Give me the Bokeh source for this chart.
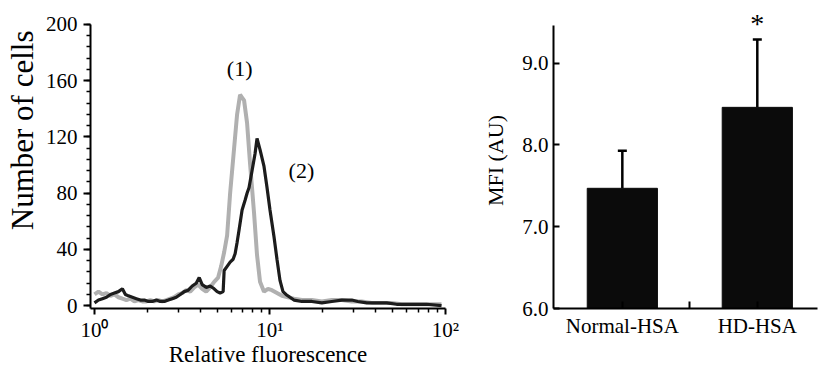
import math
from bokeh.plotting import figure
from bokeh.layouts import row
from bokeh.models import (FixedTicker, Range1d, Whisker, ColumnDataSource,
                          TeeHead, PrintfTickFormatter, Title)
from bokeh.embed import file_html
from bokeh.resources import INLINE
from bokeh.core.properties import value

FONT = "Liberation Serif"

# ---------------- data: flow-cytometry histograms ----------------
# (1) grey curve
hist1_fluor = [1.00, 1.054, 1.110, 1.170, 1.233, 1.299, 1.369, 1.442, 1.520, 1.602,
               1.688, 1.778, 1.874, 1.974, 2.080, 2.192, 2.310, 2.434, 2.565, 2.703,
               2.848, 3.001, 3.162, 3.332, 3.511, 3.700, 3.899, 4.108, 4.329, 4.561,
               4.806, 5.064, 5.267, 5.480, 5.699, 5.927, 6.245, 6.494, 6.753, 6.934,
               7.117, 7.402, 7.698, 8.111, 8.436, 8.774, 9.245, 9.741, 10.26, 10.96,
               11.70, 12.66, 13.69, 15.20, 17.32, 19.74, 22.50, 25.65, 29.24, 33.32,
               37.98, 43.29, 49.34, 56.23, 64.10, 73.06, 83.27, 94.9]
hist1_cells = [8, 10, 8, 9, 7, 8, 6, 5, 4, 5,
               3, 4, 3, 3, 4, 3, 4, 3, 4, 5,
               6, 8, 9, 11, 10, 13, 15, 12, 10, 13,
               17, 20, 28, 38, 50, 80, 112, 136, 150, 148,
               146, 130, 101, 66, 36, 17, 10, 12, 11, 9,
               7, 6, 5, 4, 4, 3, 4, 4, 3, 3,
               2, 2, 2, 1, 1, 1, 1, 1]
# (2) black curve
hist2_fluor = [1.00, 1.054, 1.110, 1.170, 1.233, 1.299, 1.369, 1.442, 1.500, 1.560,
               1.644, 1.732, 1.825, 1.923, 2.027, 2.136, 2.250, 2.371, 2.498, 2.633,
               2.774, 2.924, 3.081, 3.246, 3.420, 3.605, 3.798, 3.951, 4.108, 4.329,
               4.561, 4.806, 4.998, 5.198, 5.408, 5.480, 5.699, 5.927, 6.164, 6.327,
               6.494, 6.667, 6.934, 7.211, 7.402, 7.598, 7.902, 8.218, 8.436, 8.774,
               9.245, 9.616, 10.00, 10.54, 10.96, 11.40, 11.86, 12.33, 12.99, 13.69,
               15.20, 17.32, 19.74, 22.50, 25.65, 29.24, 31.62, 35.57, 40.55, 46.22,
               52.68, 64.10, 77.99, 94.9]
hist2_cells = [2, 4, 5, 6, 8, 9, 10, 12, 8, 7,
               6, 5, 4, 4, 3, 3, 4, 3, 3, 4,
               5, 6, 8, 10, 11, 14, 16, 20, 15, 13,
               14, 12, 10, 9, 10, 25, 28, 31, 33, 37,
               45, 54, 68, 75, 80, 84, 96, 108, 119, 111,
               99, 84, 68, 49, 33, 18, 10, 8, 6, 4,
               3, 3, 2, 3, 4, 4, 3, 2, 2, 2,
               1, 1, 1, 0]

curve_labels = ["(1)", "(2)"]
curve_label_fluor = [6.72, 15.1]
curve_label_cells = [169, 96]

left_y_ticks = [0, 40, 80, 120, 160, 200]
left_axis_top = 200
left_x_ticks = [1, 10, 100]
left_x_tick_labels = ["10\u2070", "10\u00b9", "10\u00b2"]

# ---------------- data: MFI bars ----------------
groups = ["Normal-HSA", "HD-HSA"]
mfi = [7.47, 8.46]
mfi_err = [0.46, 0.83]
significance = ["", "*"]
right_y_ticks = [6, 7, 8, 9]
right_axis_top = 9.46


def style_axis(ax, size):
    ax.axis_line_width = 2
    ax.axis_line_color = "black"
    ax.major_tick_line_color = "black"
    ax.major_tick_line_width = 2
    ax.minor_tick_line_color = "black"
    ax.minor_tick_line_width = 1.5
    ax.major_label_text_font = FONT
    ax.major_label_text_font_size = size
    ax.major_label_text_color = "black"
    ax.axis_label_text_font = FONT
    ax.axis_label_text_font_style = "normal"
    ax.axis_label_text_color = "black"


# ================= left panel =================
p1 = figure(width=478, height=370, x_axis_type="log",
            x_range=Range1d(0.949, 100), y_range=Range1d(-2, 208.5),
            output_backend="svg", toolbar_location=None,
            min_border_left=88, min_border_right=33,
            min_border_top=12, min_border_bottom=62)
p1.grid.visible = False
p1.outline_line_color = None
p1.background_fill_color = "white"
p1.border_fill_color = "white"

xa = p1.xaxis[0]
style_axis(xa, "21px")
xa.ticker = FixedTicker(ticks=left_x_ticks,
                        minor_ticks=[m * 10 ** d for d in (0, 1) for m in range(2, 10)])
xa.major_label_overrides = dict(zip(left_x_ticks, left_x_tick_labels))
xa.major_tick_out = 6
xa.major_tick_in = 0
xa.minor_tick_out = 4
xa.minor_tick_in = 0
xa.major_label_standoff = 3
xa.axis_label = "Relative fluorescence"
xa.axis_label_text_font_size = "23px"
xa.axis_label_standoff = -3

ya = p1.yaxis[0]
style_axis(ya, "21px")
ya.ticker = FixedTicker(ticks=left_y_ticks, minor_ticks=list(range(0, 201, 8)))
ya.bounds = (-2, left_axis_top)
ya.major_tick_out = 7
ya.major_tick_in = 0
ya.minor_tick_out = 4
ya.minor_tick_in = 0
ya.major_label_standoff = 6

p1.add_layout(Title(text="Number of cells", align="right", offset=18, standoff=5,
                    text_font=FONT, text_font_size="31px", text_font_style="normal",
                    text_color="black"), "left")

p1.line(hist1_fluor, hist1_cells, line_color="#b0b0b0", line_width=4)
p1.line(hist2_fluor, hist2_cells, line_color="#1c1c1c", line_width=3.2)
p1.text(x=curve_label_fluor, y=curve_label_cells, text=curve_labels,
        text_font=value(FONT), text_font_size="22px", text_color="black",
        text_align="center", text_baseline="middle")

# ================= right panel =================
xs = [i + 1 for i in range(len(groups))]
upper = [m + e for m, e in zip(mfi, mfi_err)]

p2 = figure(width=340, height=370,
            x_range=Range1d(0.49, 2.446), y_range=Range1d(6, 9.62),
            output_backend="svg", toolbar_location=None,
            min_border_left=75, min_border_right=1,
            min_border_top=12, min_border_bottom=62)
p2.grid.visible = False
p2.outline_line_color = None
p2.background_fill_color = "white"
p2.border_fill_color = "white"

p2.vbar(x=xs, top=mfi, bottom=6, width=0.52,
        fill_color="#0b0b0b", line_color="#0b0b0b")

src = ColumnDataSource(dict(x=xs, lower=mfi, upper=upper,
                            star_y=[u + 0.20 for u in upper], star=significance))
p2.add_layout(Whisker(base="x", lower="lower", upper="upper", source=src,
                      line_color="black", line_width=2.5,
                      upper_head=TeeHead(size=9, line_width=2.5, line_color="black"),
                      lower_head=None))

p2.text(x="x", y="star_y", text="star", source=src,
        text_font=value(FONT), text_font_size="28px", text_color="black",
        text_align="center", text_baseline="middle")

xb = p2.xaxis[0]
style_axis(xb, "21px")
overrides = {x: g for x, g in zip(xs, groups)}
overrides[1.5] = ""
xb.ticker = FixedTicker(ticks=[1, 1.5, 2])
xb.major_label_overrides = overrides
xb.major_tick_in = 7
xb.major_tick_out = 0
xb.minor_tick_in = 0
xb.minor_tick_out = 0
xb.major_label_standoff = 5

yb = p2.yaxis[0]
style_axis(yb, "21px")
yb.ticker = FixedTicker(ticks=right_y_ticks)
yb.formatter = PrintfTickFormatter(format="%.1f")
yb.bounds = (6, right_axis_top)
yb.major_tick_in = 6
yb.major_tick_out = 0
yb.minor_tick_in = 0
yb.minor_tick_out = 0
yb.major_label_standoff = 5
yb.axis_label = "MFI (AU)"
yb.axis_label_text_font_size = "22px"
yb.axis_label_standoff = 11

layout = row(p1, p2)
open("out.html", "w").write(file_html(layout, INLINE))
